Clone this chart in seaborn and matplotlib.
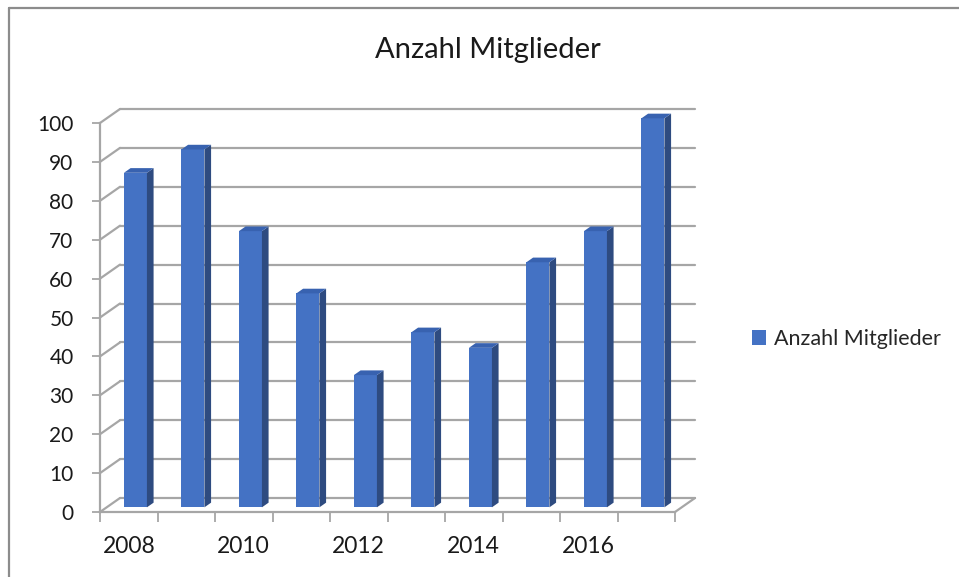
import matplotlib
matplotlib.use('Agg')
import matplotlib.pyplot as plt
import matplotlib.patches as mpatches
import matplotlib.lines as mlines
import seaborn as sns
import pandas as pd

# Daten
years = ['2008', '2009', '2010', '2011', '2012', '2013', '2014', '2015', '2016', '2017']
members = [86, 92, 71, 55, 34, 45, 41, 63, 71, 100]
shown_years = ['2008', '2010', '2012', '2014', '2016']
y_ticks = list(range(0, 101, 10))
title = 'Anzahl Mitglieder'

front_color = '#4472C4'
side_color = '#2E4B80'
top_color = '#3862B0'
grid_color = '#A6A6A6'

sns.set_style('white')
plt.rcParams['font.family'] = ['Lato', 'DejaVu Sans']

W, H = 959, 577
fig = plt.figure(figsize=(W / 100, H / 100), dpi=100)
# Plotbereich (vordere Ebene) in Pixeln
left, right, bottom, top = 100, 675, 512, 123
ax = fig.add_axes([left / W, 1 - bottom / H, (right - left) / W, (bottom - top) / H])

df = pd.DataFrame({'Jahr': years, 'Mitglieder': members})
sns.barplot(data=df, x='Jahr', y='Mitglieder', color=front_color, width=0.4,
            saturation=1, label=title, ax=ax, zorder=3)
ax.set_xlim(-0.5, len(years) - 0.5)
ax.set_ylim(0, 100)

# Pixel -> Dateneinheiten
sx = (right - left) / len(years)
sy = (bottom - top) / 100
ddx, ddy = 20 / sx, 14 / sy      # Tiefe des Bodens
bdx, bdy = ddx / 3, ddy / 3      # Tiefe der Säulen

# 3D-Säulen
for p in list(ax.patches):
    p.set_x(p.get_x() + bdx)
    p.set_y(bdy)
    p.set_clip_on(False)
    p.set_edgecolor('none')
    x0, x1 = p.get_x(), p.get_x() + p.get_width()
    y0, y1 = p.get_y(), p.get_y() + p.get_height()
    side = mpatches.Polygon([(x1, y0), (x1 + bdx, y0 + bdy), (x1 + bdx, y1 + bdy), (x1, y1)],
                            closed=True, facecolor=side_color, edgecolor='none',
                            clip_on=False, zorder=3)
    topf = mpatches.Polygon([(x0, y1), (x1, y1), (x1 + bdx, y1 + bdy), (x0 + bdx, y1 + bdy)],
                            closed=True, facecolor=top_color, edgecolor='none',
                            clip_on=False, zorder=3)
    ax.add_patch(side)
    ax.add_patch(topf)

# Rückwand-Gitter und Seitenlinien
xl, xr = -0.5, len(years) - 0.5
for v in y_ticks:
    ax.add_line(mlines.Line2D([xl, xl + ddx], [v, v + ddy], color=grid_color, lw=1.6,
                              clip_on=False, zorder=1))
    ax.add_line(mlines.Line2D([xl + ddx, xr + ddx], [v + ddy, v + ddy], color=grid_color,
                              lw=1.6, clip_on=False, zorder=1))
ax.add_line(mlines.Line2D([xr, xr + ddx], [0, ddy], color=grid_color, lw=1.6,
                          clip_on=False, zorder=1))

# Achsen
for s in ['top', 'right']:
    ax.spines[s].set_visible(False)
for s in ['left', 'bottom']:
    ax.spines[s].set_color(grid_color)
    ax.spines[s].set_linewidth(1.6)
    ax.spines[s].set_zorder(2)

ax.set_yticks(y_ticks)
ax.set_yticklabels([str(v) for v in y_ticks], fontsize=15, color='#1a1a1a')
ax.tick_params(axis='y', length=6, width=1.3, color=grid_color, pad=13, left=True)

ax.set_xticks(range(len(years)))
ax.set_xticklabels([y if y in shown_years else '' for y in years], fontsize=16.5, color='#1a1a1a')
ax.set_xticks([i - 0.5 for i in range(len(years) + 1)], minor=True)
ax.tick_params(axis='x', which='major', length=0, pad=17)
ax.tick_params(axis='x', which='minor', length=7, width=1.3, color=grid_color, bottom=True)
ax.set_xlabel('')
ax.set_ylabel('')

# Titel und Legende
fig.text(488 / W, 1 - 50 / H, title, ha='center', va='center', fontsize=21, color='#1a1a1a')
ax.legend(frameon=False, loc='center left', bbox_to_anchor=(752 / W, 1 - 339 / H),
          bbox_transform=fig.transFigure, fontsize=15.5, handlelength=0.65, handleheight=0.65,
          handletextpad=0.35, borderaxespad=0, borderpad=0)

# Rahmen (oben und links)
fig.add_artist(mlines.Line2D([9 / W, 1], [1 - 8 / H, 1 - 8 / H], color='#8C8C8C', lw=1.6))
fig.add_artist(mlines.Line2D([9 / W, 9 / W], [0, 1 - 8 / H], color='#8C8C8C', lw=1.6))

fig.savefig('out.png', dpi=100)
